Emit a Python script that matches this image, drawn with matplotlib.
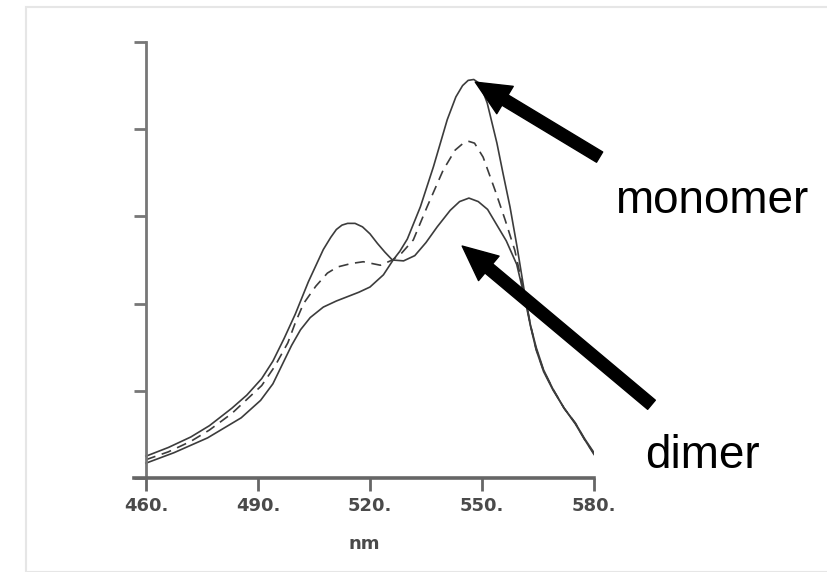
import matplotlib.pyplot as plt
from matplotlib.patches import Rectangle

# wavelength (nm) / absorbance
monomer_nm = [460, 467.5, 476.5, 485.5, 490.7, 494, 496.5, 499, 501.4, 504,
              507.5, 511, 514, 517, 520, 523.6, 526.2, 528, 530, 533.5, 537,
              540.7, 543, 544.8, 546.3, 547.8, 549.5, 551.4, 554, 555.6, 557.5,
              559.4, 561.5, 563, 564.5, 566.5, 569, 572, 575, 577.5, 580]
monomer_val = [0.17, 0.29, 0.46, 0.69, 0.89, 1.08, 1.30, 1.52, 1.70, 1.84,
               1.96, 2.03, 2.08, 2.13, 2.19, 2.33, 2.50, 2.60, 2.74, 3.11, 3.57,
               4.11, 4.37, 4.50, 4.56, 4.57, 4.52, 4.30, 3.84, 3.50, 3.11,
               2.65, 2.10, 1.75, 1.50, 1.24, 1.02, 0.80, 0.62, 0.44, 0.27]

mixed_nm = [460, 466, 472, 477, 483, 487, 491, 494.5, 498, 500, 502.2, 505.5,
            508.6, 511.3, 515, 518.2, 522.8, 526, 528.5, 531.6, 535.3, 539.6,
            542.8, 545, 546.5, 548, 550.3, 553.5, 556.2, 558.8, 561.5, 563,
            564.5, 566.5, 569, 572, 575, 577.5, 580]
mixed_val = [0.21, 0.30, 0.42, 0.55, 0.74, 0.90, 1.06, 1.28, 1.55, 1.78, 2.00,
             2.20, 2.35, 2.42, 2.46, 2.48, 2.44, 2.50, 2.58, 2.73, 3.11, 3.53,
             3.76, 3.84, 3.86, 3.84, 3.68, 3.30, 2.96, 2.61, 2.08, 1.75,
             1.48, 1.23, 1.02, 0.80, 0.63, 0.44, 0.28]

dimer_nm = [460, 466, 472, 477, 483, 487, 491, 494, 497, 500, 503.5, 507.5,
            509.5, 511, 512.5, 514, 516, 518, 520, 522, 524, 526, 529, 532,
            535, 538, 541.5, 544, 546.5, 549, 551.5, 554, 556.5, 559.3, 561.5,
            563, 564.5, 566.5, 569, 572, 575, 577.5, 580]
dimer_val = [0.25, 0.35, 0.47, 0.60, 0.80, 0.95, 1.14, 1.34, 1.60, 1.88, 2.25,
             2.62, 2.76, 2.85, 2.90, 2.92, 2.92, 2.88, 2.80, 2.69, 2.59, 2.50,
             2.49, 2.55, 2.70, 2.88, 3.07, 3.17, 3.21, 3.17, 3.08, 2.90, 2.72,
             2.45, 2.05, 1.74, 1.47, 1.22, 1.01, 0.80, 0.63, 0.45, 0.29]

xticks = [460, 490, 520, 550, 580]
xticklabels = ['460.', '490.', '520.', '550.', '580.']
yticks = [0, 1, 2, 3, 4, 5]

fig = plt.figure(figsize=(8.28, 5.72), dpi=100)
# faint frame of the original screenshot
fig.patches.append(Rectangle((26 / 828, 0), 1.2, (572 - 7) / 572,
                             transform=fig.transFigure, fill=False,
                             edgecolor='#e6e6e6', lw=1.5))

ax = fig.add_axes([134 / 828, 1 - 478 / 572, 460 / 828, 436 / 572])
line_col = '#3c3c3c'
ax.plot(monomer_nm, monomer_val, color=line_col, lw=1.2)
ax.plot(mixed_nm, mixed_val, color=line_col, lw=1.2, linestyle=(0, (6, 4)))
ax.plot(dimer_nm, dimer_val, color=line_col, lw=1.2)

ax.set_xlim(456.8, 580)
ax.set_ylim(0, 5)
for s in ['top', 'right']:
    ax.spines[s].set_visible(False)
ax.spines['left'].set_position(('data', 460))
ax.spines['left'].set_color('#777777')
ax.spines['left'].set_linewidth(2)
ax.spines['bottom'].set_color('#666666')
ax.spines['bottom'].set_linewidth(2.6)
ax.set_xticks(xticks)
ax.set_xticklabels(xticklabels, fontsize=13, fontweight='bold', color='#4a4a4a')
ax.set_yticks(yticks)
ax.set_yticklabels([])
ax.tick_params(axis='x', length=9, width=2, color='#666666', pad=5)
ax.tick_params(axis='y', length=9, width=2, color='#777777')
ax.set_xlabel('nm', fontsize=13, fontweight='bold', color='#4a4a4a', labelpad=14)

arrow = dict(arrowstyle='simple,head_length=1.25,head_width=1.15,tail_width=0.43',
             mutation_scale=20, color='black', shrinkA=0, shrinkB=0)
ax.annotate('', xy=(548.2, 4.54), xytext=(581.5, 3.68), arrowprops=arrow,
            annotation_clip=False)
ax.annotate('', xy=(544.7, 2.66), xytext=(595.4, 0.84), arrowprops=arrow,
            annotation_clip=False)

fig.text(615 / 828, 1 - 213 / 572, 'monomer', fontsize=33,
         family='Liberation Sans', va='baseline')
fig.text(645 / 828, 1 - 468 / 572, 'dimer', fontsize=33,
         family='Liberation Sans', va='baseline')

fig.savefig('out.png', dpi=100)
